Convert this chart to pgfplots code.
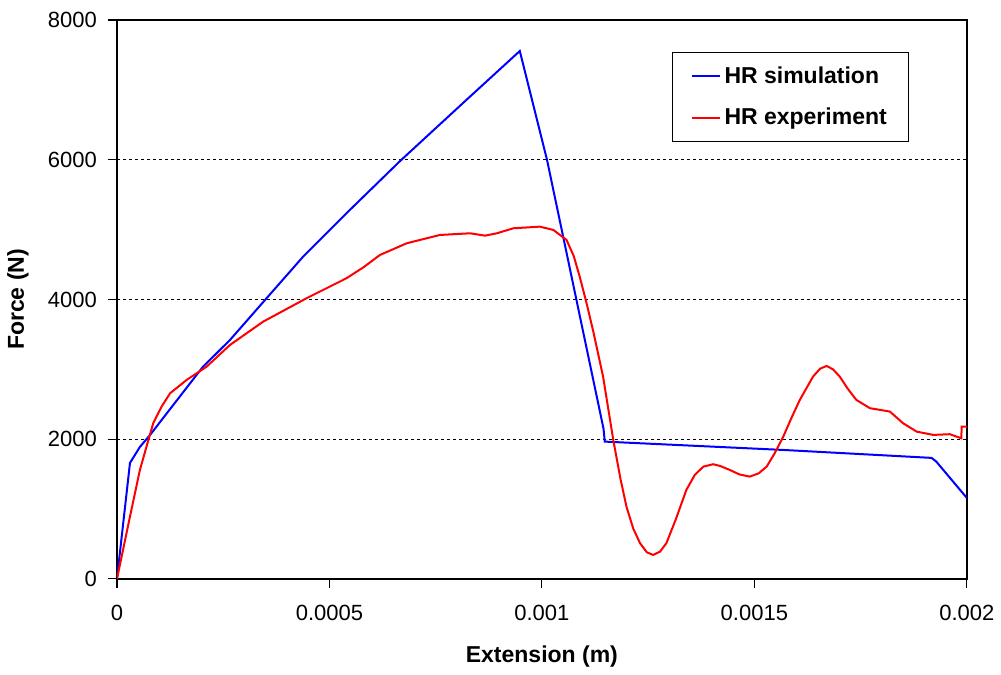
\documentclass[border=0pt]{standalone}
\usepackage{pgfplots}
\pgfplotsset{compat=1.18}
\usepackage{fontspec}
\setmainfont{Liberation Sans}
\begin{document}
\begin{tikzpicture}
\begin{axis}[
  at={(0,0)}, anchor=south west,
  scale only axis, width=425pt, height=279.5pt,
  xmin=0, xmax=0.002, ymin=0, ymax=8000,
  xtick={0,0.0005,0.001,0.0015,0.002},
  xticklabels={0,0.0005,0.001,0.0015,0.002},
  ytick={0,2000,4000,6000,8000},
  yticklabels={0,2000,4000,6000,8000},
  scaled x ticks=false, scaled y ticks=false,
  /pgf/number format/assume math mode=true,
  tick align=outside, major tick length=4.5pt,
  xtick pos=bottom, ytick pos=left,
  tick style={black, line width=0.6pt},
  ticklabel style={font=\fontsize{11}{13}\selectfont},
  xticklabel style={yshift=-5pt},
  yticklabel style={xshift=-2pt},
  ymajorgrids, grid style={black, line width=0.5pt, dash pattern=on 1.5pt off 1.5pt},
  axis line style={black, line width=1pt},
  xlabel={Extension (m)}, ylabel={Force (N)},
  label style={font=\fontsize{11.5}{13}\selectfont\bfseries},
  xlabel style={at={(axis description cs:0.5,-0.1395)}, anchor=center},
  ylabel style={at={(axis description cs:-0.1165,0.5)}, anchor=center},
  legend style={at={(axis description cs:0.653,0.943)}, anchor=north west,
    draw=black, line width=0.6pt, inner xsep=9pt, inner ysep=5pt,
    row sep=7pt, font=\fontsize{11.5}{13}\selectfont\bfseries},
  legend cell align=left,
  legend image code/.code={\draw[#1, line width=1pt] (0pt,0pt) -- (14pt,0pt);},
]
\addplot[blue, line width=1pt] coordinates {
(0,0) (3.06e-5,1660) (5.4e-5,1889) (7.8e-5,2061) (1.18e-4,2376)
(2.02e-4,3034) (2.66e-4,3420) (3.52e-4,4017) (4.38e-4,4612) (5.48e-4,5281)
(6.66e-4,5980) (8.23e-4,6860) (9.48e-4,7556) (1.012e-3,6000) (1.145e-3,2150)
(1.148e-3,1965) (1.567e-3,1846) (1.917e-3,1732) (1.928e-3,1680) (2.0e-3,1159)
};
\addlegendentry{HR simulation}
\addplot[red, line width=1pt] coordinates {
(0,0) (3.06e-5,892) (5.4e-5,1560) (7.4e-5,1989) (8.55e-5,2232) (1.05e-4,2466)
(1.25e-4,2657) (1.64e-4,2848) (2.11e-4,3038) (2.66e-4,3349) (3.44e-4,3682)
(4.46e-4,4017) (5.40e-4,4303) (5.8e-4,4460) (6.19e-4,4637) (6.82e-4,4804)
(7.6e-4,4923) (8.31e-4,4947) (8.66e-4,4913) (8.94e-4,4947) (9.33e-4,5019)
(9.72e-4,5033) (9.95e-4,5042) (1.027e-3,4995) (1.058e-3,4852)
(1.075e-3,4620) (1.089e-3,4326) (1.105e-3,3950) (1.121e-3,3540) (1.144e-3,2895)
(1.168e-3,1989) (1.185e-3,1430) (1.199e-3,1035) (1.215e-3,720) (1.231e-3,511)
(1.247e-3,380) (1.262e-3,343) (1.278e-3,390) (1.293e-3,511) (1.315e-3,850)
(1.34e-3,1274) (1.36e-3,1490) (1.38e-3,1607) (1.403e-3,1641) (1.42e-3,1615)
(1.442e-3,1560) (1.465e-3,1495) (1.489e-3,1464) (1.51e-3,1510) (1.529e-3,1607)
(1.548e-3,1800) (1.568e-3,2036) (1.587e-3,2300) (1.607e-3,2562) (1.638e-3,2895)
(1.655e-3,3010) (1.670e-3,3048) (1.685e-3,3000) (1.701e-3,2895) (1.72e-3,2720)
(1.740e-3,2562) (1.772e-3,2443) (1.795e-3,2420) (1.819e-3,2395) (1.850e-3,2228)
(1.882e-3,2108) (1.921e-3,2061) (1.96e-3,2071) (1.987e-3,2013) (1.988e-3,2180)
(2.0e-3,2180)
};
\addlegendentry{HR experiment}
\end{axis}
\path[use as bounding box] (-58.5pt,-47pt) rectangle (442pt,289.5pt);
\end{tikzpicture}
\end{document}
